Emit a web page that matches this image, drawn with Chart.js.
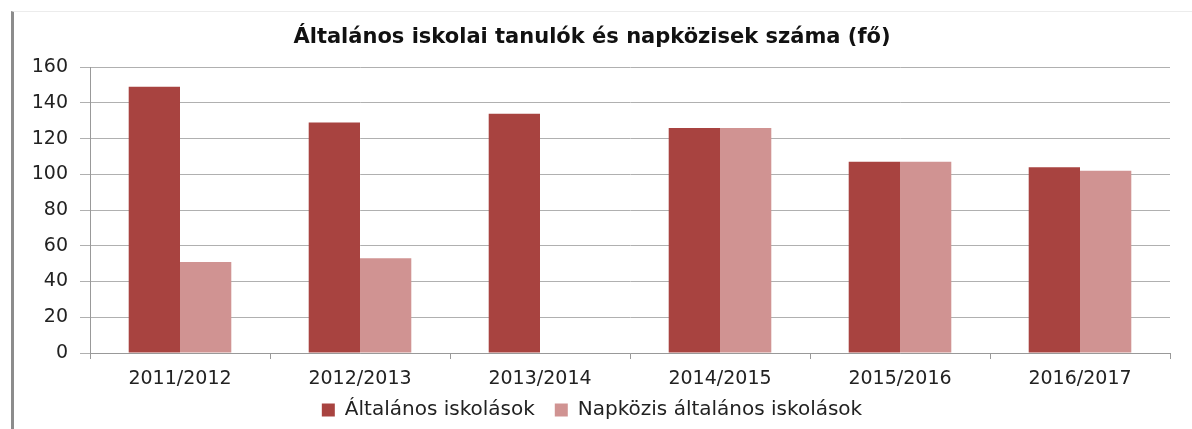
<html>
<head>
<meta charset="utf-8">
<script src="https://cdn.jsdelivr.net/npm/chart.js@4.4.0/dist/chart.umd.min.js"></script>
<style>
body { margin:0; background:#fff; }
#frame { position:absolute; left:11px; top:11px; width:1178px; height:418px; border-left:3px solid #8c8c8c; border-top:1px solid #ececec; }
</style>
</head>
<body>
<div id="frame"><canvas id="chart" width="1178" height="418"></canvas></div>
<script>
var categories = ['2011/2012', '2012/2013', '2013/2014', '2014/2015', '2015/2016', '2016/2017'];
var altalanos = [149, 129, 134, 126, 107, 104];
var napkozis = [51, 53, null, 126, 107, 102];
var yTicks = [0, 20, 40, 60, 80, 100, 120, 140, 160];

var font = "'DejaVu Sans', 'Open Sans', sans-serif";
Chart.defaults.font.family = font;
Chart.defaults.color = '#222';

// wide gap between legend items, but keep the legend box short
var legendHeight = {
	id: 'legendHeight',
	beforeLayout: function(chart) {
		var lg = chart.legend;
		if (lg && !lg._fixed) {
			var fit = lg.fit;
			lg.fit = function() { fit.call(this); this.height = 37; };
			lg._fixed = true;
		}
	},
	afterLayout: function(chart) {
		chart.legend.top -= 11;
		chart.legend.height += 11;
	}
};

new Chart(document.getElementById('chart'), {
	type: 'bar',
	data: {
		labels: categories,
		datasets: [
			{ label: 'Általános iskolások', data: altalanos, backgroundColor: 'rgb(168,67,64)', barPercentage: 1, categoryPercentage: 0.57 },
			{ label: 'Napközis általános iskolások', data: napkozis, backgroundColor: 'rgb(208,147,146)', barPercentage: 1, categoryPercentage: 0.57 }
		]
	},
	plugins: [legendHeight],
	options: {
		responsive: false,
		animation: false,
		layout: { padding: { left: 0, right: 22, bottom: 2 } },
		plugins: {
			title: { display: true, text: 'Általános iskolai tanulók és napközisek száma (fő)', font: { size: 21, weight: 'bold' }, color: '#111', padding: { top: 13, bottom: 17 } },
			legend: { position: 'bottom', labels: { boxWidth: 13, boxHeight: 13, font: { size: 20 }, padding: 20, color: '#222' } },
			tooltip: { enabled: false }
		},
		scales: {
			x: {
				grid: { display: true, drawOnChartArea: false, offset: true, tickLength: 6, color: '#999' },
				border: { color: '#999' },
				ticks: { font: { size: 19 }, padding: 9 },
				afterFit: function(s) { s.height = 38; }
			},
			y: {
				min: 0, max: 160,
				afterBuildTicks: function(s) { s.ticks = yTicks.map(function(v) { return { value: v }; }); },
				grid: { color: '#b0b0b0', tickLength: 10 },
				border: { color: '#999' },
				ticks: { font: { size: 19 }, padding: 12 },
				afterFit: function(s) { s.width = 76; }
			}
		}
	}
});
</script>
</body>
</html>
